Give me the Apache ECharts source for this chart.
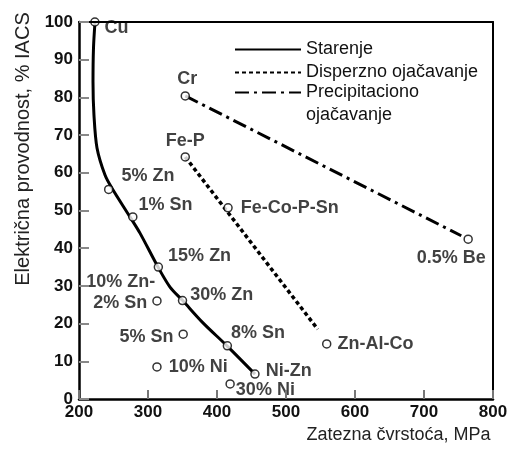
<!DOCTYPE html>
<html><head><meta charset="utf-8">
<script src="https://cdn.jsdelivr.net/npm/echarts@6/dist/echarts.min.js"></script>
<style>html,body{margin:0;padding:0;background:#fff}#c{width:511px;height:450px;background:#fff}</style>
</head><body><div id="c"></div>
<script>
// Starenje curve
const starenjeX = [223.2, 221, 220.3, 221.7, 226.1, 237.7, 247.8, 273.9, 288.4, 314.5, 331.9, 350.3, 379.7, 414.5, 455.1];
const starenjeY = [100, 93.1, 84.1, 75.3, 66.6, 59.4, 55.9, 48.3, 44, 35, 29.7, 26.1, 20.2, 14.1, 6.6];
// Disperzno ojačavanje line
const disperznoX = [354, 546];
const disperznoY = [64.2, 18.5];
// Precipitaciono ojačavanje line
const precipX = [354, 754];
const precipY = [80.4, 43.3];
// Labelled points
const pointNames = ['Cu','5% Zn','1% Sn','15% Zn','10% Zn-2% Sn','30% Zn','5% Sn','8% Sn','10% Ni','Ni-Zn','30% Ni','Fe-P','Fe-Co-P-Sn','Zn-Al-Co','Cr','0.5% Be'];
const pointX = [223, 243, 278, 315, 313, 350, 351, 415, 313, 455, 419, 354, 416, 559, 354, 764];
const pointY = [100, 55.6, 48.3, 35, 26, 26.1, 17.2, 14.1, 8.5, 6.6, 4, 64.2, 50.7, 14.6, 80.4, 42.4];
// Axis ticks
const xTicks = [200, 300, 400, 500, 600, 700, 800];
const yTicks = [0, 10, 20, 30, 40, 50, 60, 70, 80, 90, 100];
const seriesNames = ['Starenje', 'Disperzno ojačavanje', 'Precipitaciono ojačavanje'];

// label placement (style only)
const labelPlace = {
  'Cu': ['right', [0, 6]],
  '5% Zn': ['right', [3, -13]],
  '1% Sn': ['right', [-4, -12]],
  '15% Zn': ['right', [0, -11]],
  '10% Zn-2% Sn': ['left', [8, -8]],
  '30% Zn': ['right', [-2, -6]],
  '5% Sn': ['left', [0, 3]],
  '8% Sn': ['right', [-6, -13]],
  '10% Ni': ['right', [2, 0]],
  'Ni-Zn': ['right', [1, -3]],
  '30% Ni': ['right', [-4, 6]],
  'Fe-P': ['top', [0, 3]],
  'Cr': ['top', [2, 2]],
  'Fe-Co-P-Sn': ['right', [3, 0]],
  'Zn-Al-Co': ['right', [1, 0]],
  '0.5% Be': ['bottom', [-17, 0]]
};

const zip = (xs, ys) => xs.map((v, i) => [v, ys[i]]);
const FONT = '"Liberation Sans", Arial, sans-serif';
const LBL = { fontSize: 18, fontWeight: 'bold', fontFamily: FONT, color: '#111' };

function buildOption(v) {
  const pointData = pointNames.map((n, i) => {
    const p = v.place ? labelPlace[n] : ['right', [0, 0]];
    const item = { name: n, value: [pointX[i], pointY[i]],
      label: { show: true, position: p[0], offset: p[1] } };
    if (n === '10% Zn-2% Sn') {
      item.label.formatter = '{a|10% Zn-}\n{b|2% Sn}';
      item.label.rich = {
        a: Object.assign({ lineHeight: 21 }, LBL),
        b: Object.assign({ lineHeight: 21, padding: [0, 8, 0, 0] }, LBL)
      };
    }
    return item;
  });
  const frameAxis = {
    z: 10,
    axisLine: { show: true, onZero: false, lineStyle: { color: '#000', width: 2 } },
    axisTick: { show: false }, axisLabel: { show: false }, splitLine: { show: false }
  };
  const legendBase = {
    orient: 'vertical', left: 229,
    itemWidth: 66, itemHeight: 14, itemGap: 0,
    itemStyle: { opacity: 0 },
    textStyle: { fontSize: 18, fontFamily: FONT, color: '#111', lineHeight: 23 },
    selectedMode: false
  };
  const legendA = Object.assign({ data: seriesNames.slice(0, 2), top: 33 }, legendBase);
  const legendB = Object.assign({ data: seriesNames.slice(2), top: v.fmt ? 53 : 76 }, legendBase);
  if (v.fmt) legendB.formatter = () => ' \nPrecipitaciono\nojačavanje';
  const xMain = {
    type: 'value', min: xTicks[0], max: xTicks[xTicks.length - 1], interval: 100, z: 10,
    axisLine: { show: true, lineStyle: { color: '#000', width: 2.5 } },
    axisTick: { show: true, inside: true, length: 9, lineStyle: { color: '#777', width: 2 } },
    axisLabel: { fontSize: 17, fontWeight: 'bold', fontFamily: FONT, color: '#111', margin: 5 },
    splitLine: { show: false }
  };
  if (v.xname) Object.assign(xMain, {
    name: 'Zatezna čvrstoća, MPa', nameLocation: 'middle', nameGap: 15,
    nameTextStyle: { fontSize: 18, fontFamily: FONT, color: '#222', padding: [0, 0, 0, 225] }
  });
  const yMain = {
    type: 'value', min: yTicks[0], max: yTicks[yTicks.length - 1], interval: 10, z: 10,
    name: 'Električna provodnost, % IACS', nameLocation: 'middle', nameGap: 46,
    nameTextStyle: { fontSize: 20, fontFamily: FONT, color: '#222', padding: [0, 0, 0, 123] },
    axisLine: { show: true, lineStyle: { color: '#000', width: 2.5 } },
    axisTick: { show: true, inside: true, length: 10, lineStyle: { color: '#888', width: 2 } },
    axisLabel: { fontSize: 17, fontWeight: 'bold', fontFamily: FONT, color: '#111', margin: 6 },
    splitLine: { show: false }
  };
  return {
    animation: false,
    backgroundColor: 'transparent',
    grid: { left: 79, right: 18, top: 22, bottom: 51 },
    legend: [legendA, legendB],
    xAxis: v.frame ? [xMain, Object.assign({ type: 'value', position: 'top', min: xTicks[0], max: xTicks[xTicks.length - 1] }, frameAxis)] : [xMain],
    yAxis: v.frame ? [yMain, Object.assign({ type: 'value', position: 'right', min: yTicks[0], max: yTicks[yTicks.length - 1] }, frameAxis)] : [yMain],
    series: [
      { name: seriesNames[0], type: 'line', data: zip(starenjeX, starenjeY), smooth: 0.3,
        symbol: 'none', itemStyle: { color: '#000' }, lineStyle: { color: '#000', width: 3 }, z: 2 },
      { name: seriesNames[1], type: 'line', data: zip(disperznoX, disperznoY),
        symbol: 'none', itemStyle: { color: '#000' }, lineStyle: { color: '#000', width: 3.5, type: [4, 3] }, z: 2 },
      { name: seriesNames[2], type: 'line', data: zip(precipX, precipY),
        symbol: 'none', itemStyle: { color: '#000' }, lineStyle: { color: '#000', width: 3, type: [14, 5, 3, 5] }, z: 2 },
      { name: 'points', type: 'scatter', data: pointData, symbol: 'circle', symbolSize: 8, z: 5,
        itemStyle: { color: '#fff', borderColor: '#000', borderWidth: 1.5 },
        label: Object.assign({ distance: 5, formatter: p => p.name }, LBL) }
    ]
  };
}

const chart = echarts.init(document.getElementById('c'));

// verify on screen that the y-axis line really shows
function axisVisible() {
  try { chart.getZr().refreshImmediately(); } catch (e) {}
  const p = chart.convertToPixel({ xAxisIndex: 0, yAxisIndex: 0 }, [xTicks[0], 55]);
  const canv = Array.from(document.querySelectorAll('#c canvas'));
  const x0 = Math.round(p[0]) - 3, y0 = Math.round(p[1]);
  for (let i = canv.length - 1; i >= 0; i--) {
    let d;
    try { d = canv[i].getContext('2d').getImageData(x0, y0, 7, 1).data; } catch (e) { continue; }
    let maxA = 0, minC = 255;
    for (let k = 0; k < d.length; k += 4) {
      if (d[k + 3] > 0) { maxA = Math.max(maxA, d[k + 3]); minC = Math.min(minC, d[k]); }
    }
    if (maxA > 0) { if (minC < 120) return true; if (maxA > 200) return false; }
  }
  return false;
}

const variants = [
  { fmt: true, xname: true, frame: true, place: true },
  { fmt: false, xname: true, frame: true, place: true },
  { fmt: false, xname: false, frame: true, place: true },
  { fmt: false, xname: false, frame: false, place: true },
  { fmt: false, xname: false, frame: false, place: false }
];
let ok = false;
for (const v of variants) {
  chart.setOption(buildOption(v), true);
  if (axisVisible()) { ok = true; break; }
}
if (!ok) chart.setOption(buildOption(variants[0]), true);
</script></body></html>
